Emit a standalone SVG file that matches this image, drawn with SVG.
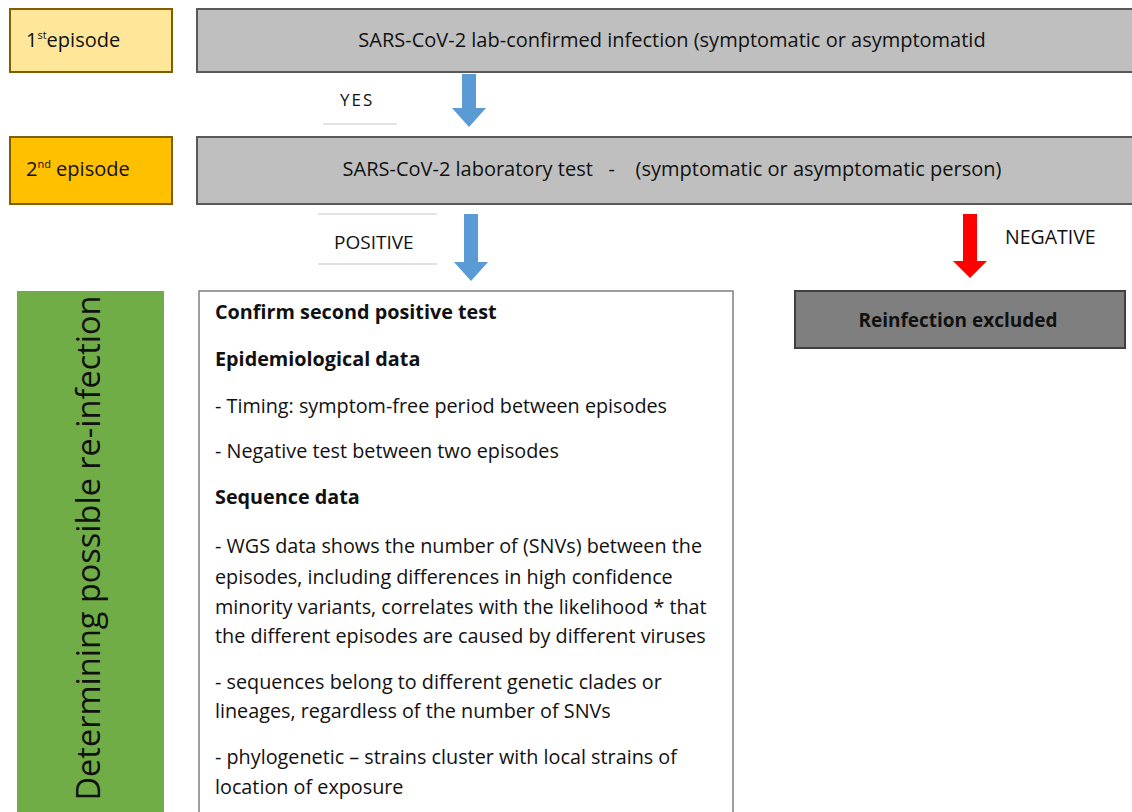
<svg xmlns="http://www.w3.org/2000/svg" width="1132" height="812" viewBox="0 0 1132 812">
<style>
text{font-family:"Open Sans","Liberation Sans",sans-serif;fill:#111}
.hdr{font-size:20px}
.body{font-size:19.8px}
.b{font-weight:bold}
.gray{fill:#bfbfbf;stroke:#595959;stroke-width:2}
.rule{stroke:#d9d9d9;stroke-width:1.5}
</style>
<g id="episode1">
<rect x="10" y="9" width="162" height="63" fill="#ffe699" stroke="#7f6000" stroke-width="2"/>
<text x="26" y="47" class="hdr">1<tspan font-size="11" dy="-8">st</tspan><tspan dy="8">episode</tspan></text>
</g>
<g id="infection1">
<rect x="197" y="9" width="940" height="63" class="gray"/>
<text x="672" y="47" class="hdr" text-anchor="middle">SARS-CoV-2 lab-confirmed infection (symptomatic or asymptomatid</text>
</g>
<g id="episode2">
<rect x="10" y="137" width="162" height="67" fill="#ffc000" stroke="#7f6000" stroke-width="2"/>
<text x="26" y="176" class="hdr">2<tspan font-size="11" dy="-8">nd</tspan><tspan dy="8"> episode</tspan></text>
</g>
<g id="labtest">
<rect x="197" y="137" width="940" height="67" class="gray"/>
<text x="672" y="176" class="hdr" text-anchor="middle" xml:space="preserve">SARS-CoV-2 laboratory test   -    (symptomatic or asymptomatic person)</text>
</g>
<g id="yes-label">
<line x1="323" y1="124" x2="397" y2="124" class="rule"/>
<text x="340" y="106" font-size="17" letter-spacing="2">YES</text>
</g>
<g id="positive-label">
<line x1="318" y1="214" x2="437" y2="214" class="rule"/>
<line x1="318" y1="264" x2="437" y2="264" class="rule"/>
<text x="334" y="249" font-size="19">POSITIVE</text>
</g>
<g id="negative-label">
<text x="1005" y="244" font-size="19.5">NEGATIVE</text>
</g>
<g id="reinfection-excluded">
<rect x="795" y="291" width="330" height="57" fill="#7f7f7f" stroke="#404040" stroke-width="2"/>
<text x="958" y="327" font-size="19" class="b" text-anchor="middle">Reinfection excluded</text>
</g>
<g id="determining">
<rect x="17" y="291" width="147" height="530" fill="#70ad47"/>
<text transform="translate(100,548) rotate(-90)" font-size="32.5" text-anchor="middle">Determining possible re-infection</text>
</g>
<g id="criteria">
<rect x="199" y="291" width="534" height="530" fill="#fff" stroke="#7f7f7f" stroke-width="1.5"/>
<g class="body">
<text x="215" y="319" class="b">Confirm second positive test</text>
<text x="215" y="366" class="b">Epidemiological data</text>
<text x="215" y="413">- Timing: symptom-free period between episodes</text>
<text x="215" y="458">- Negative test between two episodes</text>
<text x="215" y="504" class="b">Sequence data</text>
<text x="215" y="553">- WGS data shows the number of (SNVs) between the</text>
<text x="215" y="584">episodes, including differences in high confidence</text>
<text x="215" y="614">minority variants, correlates with the likelihood * that</text>
<text x="215" y="643">the different episodes are caused by different viruses</text>
<text x="215" y="689">- sequences belong to different genetic clades or</text>
<text x="215" y="718">lineages, regardless of the number of SNVs</text>
<text x="215" y="764">- phylogenetic – strains cluster with local strains of</text>
<text x="215" y="794">location of exposure</text>
</g>
</g>
<g id="connectors">
<polygon points="462,74 476,74 476,108 486,108 469,127 452,108 462,108" fill="#5b9bd5"/>
<polygon points="464,214 478,214 478,262 488,262 471,281 454,262 464,262" fill="#5b9bd5"/>
<polygon points="963,214 977,214 977,261 987,261 970,278 953,261 963,261" fill="#ff0000"/>
</g>
</svg>
